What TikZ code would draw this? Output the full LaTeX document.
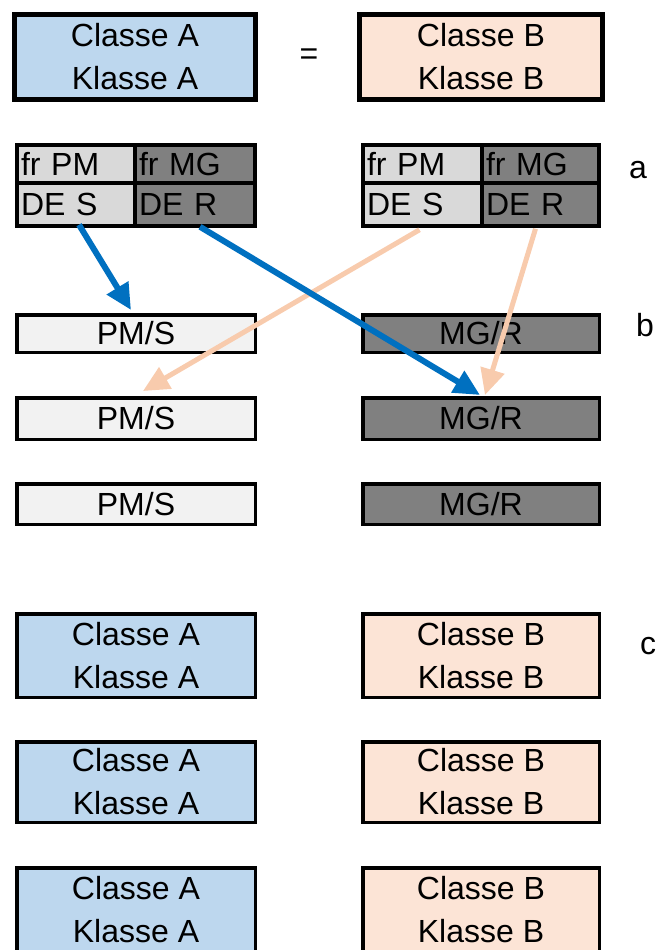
\documentclass[tikz,border=0pt]{standalone}
\usepackage{fontspec}
\setmainfont{Liberation Sans}
\usetikzlibrary{arrows.meta,calc}
\definecolor{cA}{HTML}{BDD7EE}
\definecolor{cB}{HTML}{FCE4D6}
\definecolor{lgray}{HTML}{D9D9D9}
\definecolor{dgray}{HTML}{808080}
\definecolor{vlgray}{HTML}{F2F2F2}
\definecolor{arrblue}{HTML}{0070C0}
\definecolor{arrpeach}{HTML}{F8CBAD}
\begin{document}
\begin{tikzpicture}[x=1pt,y=-1pt,
  txt/.style={font=\fontsize{32}{43}\selectfont},
  topbox/.style={txt,draw=black,line width=5pt,minimum width=241pt,minimum height=85pt,inner sep=0pt,align=center},
  bbox/.style={txt,draw=black,line width=3.5pt,inner sep=0pt,align=center},
  cell/.style={txt,draw=black,line width=3.5pt,inner xsep=4pt,inner ysep=0pt,align=left},
  bluearr/.style={draw=arrblue,line width=6pt,-{Triangle[length=26pt,width=24pt]}},
  peacharr/.style={draw=arrpeach,line width=5pt,-{Triangle[length=26pt,width=24pt]}},
  lbl/.style={txt,inner sep=0pt}]
\useasboundingbox (0,0) rectangle (661,950);
\clip (0,0) rectangle (661,950);
% top row
\node[topbox,fill=cA] (topA) at (135,57) {Classe A\\Klasse A};
\node[topbox,fill=cB,minimum width=243pt] (topB) at (481,57) {Classe B\\Klasse B};
\node[lbl] (eq) at (309,57) {=};
% row a, left grid
\node[cell,fill=lgray,text width=110pt,minimum height=38pt] (aLP) at (76,164) {fr PM};
\node[cell,fill=dgray,text width=112pt,minimum height=38pt] (aLM) at (195,164) {fr MG};
\node[cell,fill=lgray,text width=110pt,minimum height=43pt] (aLS) at (76,204.5) {DE S};
\node[cell,fill=dgray,text width=112pt,minimum height=43pt] (aLR) at (195,204.5) {DE R};
% row a, right grid
\node[cell,fill=lgray,text width=111pt,minimum height=38pt] (aRP) at (422.5,164) {fr PM};
\node[cell,fill=dgray,text width=109pt,minimum height=38pt] (aRM) at (540.5,164) {fr MG};
\node[cell,fill=lgray,text width=111pt,minimum height=43pt] (aRS) at (422.5,204.5) {DE S};
\node[cell,fill=dgray,text width=109pt,minimum height=43pt] (aRR) at (540.5,204.5) {DE R};
\node[lbl] (la) at (638,170) {a};
% row b
\node[bbox,fill=vlgray,minimum width=238.5pt,minimum height=37.5pt] (b1L) at (136,333.5) {PM/S};
\node[bbox,fill=dgray,minimum width=236.5pt,minimum height=37.5pt] (b1R) at (481,333.5) {MG/R};
\node[bbox,fill=vlgray,minimum width=238.5pt,minimum height=41.5pt] (b2L) at (136,418.5) {PM/S};
\node[bbox,fill=dgray,minimum width=236.5pt,minimum height=41.5pt] (b2R) at (481,418.5) {MG/R};
\node[bbox,fill=vlgray,minimum width=238.5pt,minimum height=40.5pt] (b3L) at (136,504) {PM/S};
\node[bbox,fill=dgray,minimum width=236.5pt,minimum height=40.5pt] (b3R) at (481,504) {MG/R};
\node[lbl] (lb) at (645,325) {b};
% row c
\node[bbox,fill=cA,minimum width=238.5pt,minimum height=83.5pt] (c1L) at (136,655.5) {Classe A\\Klasse A};
\node[bbox,fill=cB,minimum width=236.5pt,minimum height=83.5pt] (c1R) at (481,655.5) {Classe B\\Klasse B};
\node[bbox,fill=cA,minimum width=238.5pt,minimum height=80.5pt] (c2L) at (136,782) {Classe A\\Klasse A};
\node[bbox,fill=cB,minimum width=236.5pt,minimum height=80.5pt] (c2R) at (481,782) {Classe B\\Klasse B};
\node[bbox,fill=cA,minimum width=238.5pt,minimum height=84.5pt] (c3L) at (136,910) {Classe A\\Klasse A};
\node[bbox,fill=cB,minimum width=236.5pt,minimum height=84.5pt] (c3R) at (481,910) {Classe B\\Klasse B};
\node[lbl] (lc) at (648,646) {c};
% arrows
\draw[peacharr] ($(aRS.south)+(-3,2)$) -- ($(b2L.north)+(7,-5)$);
\draw[peacharr] ($(aRR.south)+(-5,1)$) -- ($(b2R.north)+(4,-1)$);
\draw[bluearr] ($(aLS.south)+(3,-3)$) -- ($(b1L.north)+(-5,-3)$);
\draw[bluearr] ($(aLR.south)+(5,-1)$) -- ($(b2R.north)+(-1,-1)$);
\end{tikzpicture}
\end{document}
